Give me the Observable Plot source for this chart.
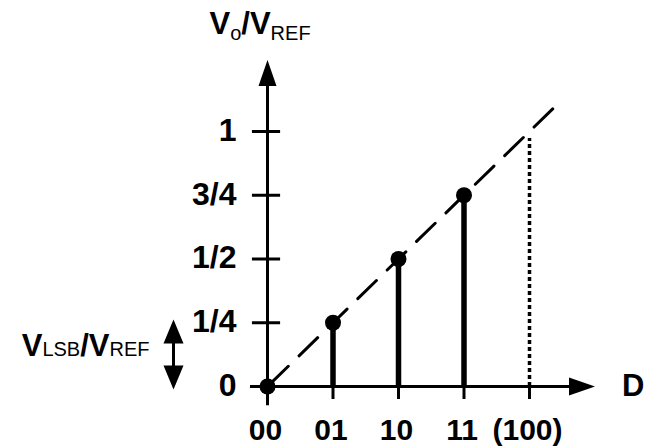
<!DOCTYPE html>
<html>
<head>
<meta charset="utf-8">
<script src="https://cdn.jsdelivr.net/npm/d3@7"></script>
<script src="https://cdn.jsdelivr.net/npm/@observablehq/plot@0.6"></script>
<style>
  html, body { margin: 0; padding: 0; background: #fff; }
  #chart { width: 645px; height: 448px; }
</style>
</head>
<body>
<div id="chart"></div>
<script>
// ---- data ----
const codeLabels = ["00", "01", "10", "11", "(100)"];
const codeIndex = [0, 1, 2, 3, 4];
const levelValues = [0, 0.25, 0.5, 0.75, 1];
const levelLabels = ["0", "1/4", "1/2", "3/4", "1"];
const outCodes = [0, 1, 2, 3];
const outValues = [0, 0.25, 0.5, 0.75];
const idealX = [0, 4.4];
const idealY = [0, 1.1];
const fullScaleCode = 4;
const fullScaleTop = 0.973;
const xAxisExtent = [-0.26, 5];
const yAxisExtent = [-0.075, 1.28];
const lsbArrowX = -1.435;
const lsbArrowY = [-0.012, 0.263];
const yTitle = "V{o}/V{REF}";
const xTitle = "D";
const lsbLabel = "V{LSB}/V{REF}";

const FONT = "Liberation Sans, Arial, Helvetica, sans-serif";

function arrowHead(len, wid) {
  return {
    draw(ctx) {
      ctx.moveTo(0, 0);
      ctx.lineTo(wid / 2, len);
      ctx.lineTo(-wid / 2, len);
      ctx.closePath();
    }
  };
}

const stems = outCodes.map((c, i) => ({x: c, y: outValues[i]})).filter(d => d.y > 0);
const dots = outCodes.map((c, i) => ({x: c, y: outValues[i]}));
const ideal = idealX.map((x, i) => ({x, y: idealY[i]}));

const chart = Plot.plot({
  width: 645,
  height: 448,
  margin: 0,
  style: {background: "#fff", fontFamily: FONT},
  x: {domain: [0, 4], range: [267, 529], axis: null},
  y: {domain: [0, 1], range: [386, 131], axis: null},
  marks: [
    // axes
    Plot.ruleY([0], {x1: xAxisExtent[0], x2: xAxisExtent[1] - 0.3, stroke: "black", strokeWidth: 3}),
    Plot.ruleX([0], {y1: yAxisExtent[0], y2: yAxisExtent[1] - 0.08, stroke: "black", strokeWidth: 3}),
    // y ticks
    Plot.ruleY(levelValues, {x1: -0.23, x2: 0.2, stroke: "black", strokeWidth: 3}),
    // x ticks
    Plot.ruleX(codeIndex, {y1: 0, y2: -0.051, stroke: "black", strokeWidth: 3}),
    // ideal dashed line
    Plot.line(ideal, {x: "x", y: "y", stroke: "black", strokeWidth: 3, strokeDasharray: "26,15", strokeDashoffset: -3}),
    // full-scale dotted line
    Plot.ruleX([fullScaleCode], {y1: 0, y2: fullScaleTop, stroke: "black", strokeWidth: 3.5, strokeDasharray: "4,3"}),
    // stems
    Plot.ruleX(stems, {x: "x", y1: 0, y2: "y", stroke: "black", strokeWidth: 5.5}),
    // dots
    Plot.dot(dots, {x: "x", y: "y", r: 8, fill: "black", stroke: "none"}),
    // arrowheads on axes
    Plot.dot([0], {x: 0, y: yAxisExtent[1], r: 5, symbol: arrowHead(26, 18), fill: "black", stroke: "none"}),
    Plot.dot([0], {x: xAxisExtent[1], y: 0, r: 5, symbol: arrowHead(26, 18), rotate: 90, fill: "black", stroke: "none"}),
    // LSB double arrow
    Plot.ruleX([lsbArrowX], {y1: lsbArrowY[0] + 0.05, y2: lsbArrowY[1] - 0.05, stroke: "black", strokeWidth: 3}),
    Plot.dot([0], {x: lsbArrowX, y: lsbArrowY[1], r: 5, symbol: arrowHead(24, 20), fill: "black", stroke: "none"}),
    Plot.dot([0], {x: lsbArrowX, y: lsbArrowY[0], r: 5, symbol: arrowHead(24, 20), rotate: 180, fill: "black", stroke: "none"}),
    // tick labels
    Plot.text(levelLabels, {x: 0, y: levelValues, text: d => d, dx: -31, dy: -1, textAnchor: "end", fontSize: 32, fontWeight: "bold", fontFamily: FONT, fill: "black"}),
    Plot.text(codeLabels, {x: codeIndex, y: 0, text: d => d, dx: -2, dy: 44, fontSize: 30, fontWeight: "bold", fontFamily: FONT, fill: "black"}),
    // axis titles
    Plot.text([xTitle], {x: xAxisExtent[1], y: 0, text: d => d, dx: 27, textAnchor: "start", fontSize: 31, fontWeight: "bold", fontFamily: FONT, fill: "black"}),
    Plot.text([yTitle], {x: 0, y: yAxisExtent[1], text: d => d, dx: -58, dy: -26, textAnchor: "start", lineAnchor: "bottom", fontSize: 31, fontWeight: "bold", fontFamily: FONT, fill: "black"}),
    Plot.text([lsbLabel], {x: lsbArrowX, y: (lsbArrowY[0] + lsbArrowY[1]) / 2, text: d => d, dx: -24, dy: 2, textAnchor: "end", lineAnchor: "bottom", fontSize: 31, fontWeight: "bold", fontFamily: FONT, fill: "black"})
  ]
});

// turn {..} segments into subscripts
d3.select(chart).selectAll("text").each(function () {
  const el = d3.select(this);
  const s = el.text();
  if (!s.includes("{")) return;
  const shift = s === yTitle ? 6 : 0;
  el.text(null);
  const parts = s.split(/(\{[^}]*\})/).filter(p => p.length);
  let lowered = false;
  for (const p of parts) {
    if (p.startsWith("{")) {
      el.append("tspan").attr("font-size", 20).attr("font-weight", "normal")
        .attr("dy", lowered ? 0 : shift).text(p.slice(1, -1));
      lowered = true;
    } else {
      el.append("tspan").attr("font-size", 31).attr("font-weight", "bold")
        .attr("dy", lowered ? -shift : 0).text(p);
      lowered = false;
    }
  }
});

document.getElementById("chart").appendChild(chart);
</script>
</body>
</html>
